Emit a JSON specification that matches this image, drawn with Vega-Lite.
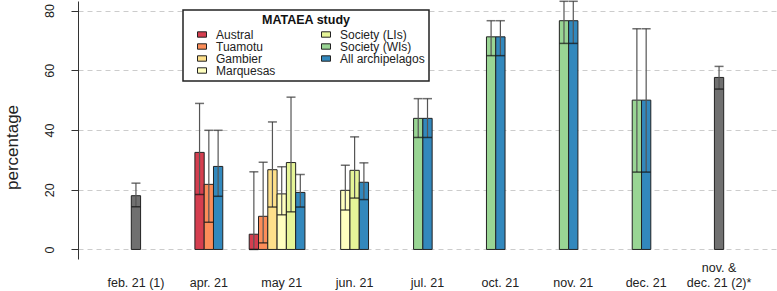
{
  "$schema": "https://vega.github.io/schema/vega-lite/v6.json",
  "autosize": "none",
  "width": 699,
  "height": 258,
  "padding": {"left": 78, "top": 1, "right": 0, "bottom": 32},
  "background": "white",
  "config": {
    "view": {"stroke": null},
    "font": "Liberation Sans"
  },
  "data": {
    "values": [
      {"group": "feb. 21 (1)", "arch": "Other study", "value": 18.0, "lo": 14.3, "hi": 22.2},
      {"group": "apr. 21", "arch": "Austral", "value": 32.5, "lo": 18.4, "hi": 48.9},
      {"group": "apr. 21", "arch": "Tuamotu", "value": 21.8, "lo": 9.1, "hi": 39.9},
      {"group": "apr. 21", "arch": "All archipelagos", "value": 27.8, "lo": 17.8, "hi": 39.9},
      {"group": "may 21", "arch": "Austral", "value": 5.1, "lo": 0.0, "hi": 26.0},
      {"group": "may 21", "arch": "Tuamotu", "value": 11.1, "lo": 2.2, "hi": 29.2},
      {"group": "may 21", "arch": "Gambier", "value": 26.7, "lo": 14.2, "hi": 42.7},
      {"group": "may 21", "arch": "Marquesas", "value": 18.6, "lo": 11.6, "hi": 27.7},
      {"group": "may 21", "arch": "Society (LIs)", "value": 29.1, "lo": 12.6, "hi": 51.0},
      {"group": "may 21", "arch": "All archipelagos", "value": 19.1, "lo": 14.2, "hi": 25.1},
      {"group": "jun. 21", "arch": "Marquesas", "value": 19.8, "lo": 13.2, "hi": 28.2},
      {"group": "jun. 21", "arch": "Society (LIs)", "value": 26.5, "lo": 17.2, "hi": 37.7},
      {"group": "jun. 21", "arch": "All archipelagos", "value": 22.5, "lo": 16.7, "hi": 29.0},
      {"group": "jul. 21", "arch": "Society (WIs)", "value": 43.9, "lo": 37.5, "hi": 50.5},
      {"group": "jul. 21", "arch": "All archipelagos", "value": 43.9, "lo": 37.5, "hi": 50.5},
      {"group": "oct. 21", "arch": "Society (WIs)", "value": 71.2, "lo": 64.9, "hi": 76.6},
      {"group": "oct. 21", "arch": "All archipelagos", "value": 71.2, "lo": 64.9, "hi": 76.6},
      {"group": "nov. 21", "arch": "Society (WIs)", "value": 76.6, "lo": 69.0, "hi": 83.1},
      {"group": "nov. 21", "arch": "All archipelagos", "value": 76.6, "lo": 69.0, "hi": 83.1},
      {"group": "dec. 21", "arch": "Society (WIs)", "value": 50.0, "lo": 25.9, "hi": 73.9},
      {"group": "dec. 21", "arch": "All archipelagos", "value": 50.0, "lo": 25.9, "hi": 73.9},
      {"group": "nov. & dec. 21 (2)*", "arch": "Other study", "value": 57.6, "lo": 53.7, "hi": 61.3}
    ]
  },
  "transform": [
    {"window": [{"op": "row_number", "as": "rn"}, {"op": "count", "as": "n"}], "groupby": ["group"], "frame": [null, null]},
    {"calculate": "datum.rn - 1 - floor(datum.n / 2)", "as": "slot"}
  ],
  "encoding": {
    "x": {
      "field": "group", "type": "nominal",
      "scale": {
        "domain": ["feb. 21 (1)", "apr. 21", "may 21", "jun. 21", "jul. 21", "oct. 21", "nov. 21", "dec. 21", "nov. & dec. 21 (2)*"],
        "paddingInner": 0.108, "paddingOuter": 0.349
      },
      "axis": {
        "title": null, "domain": false, "ticks": false, "grid": false,
        "labelAngle": 0, "labelBaseline": "top", "labelPadding": 2,
        "labelFontSize": 12.5, "labelColor": "#222", "labelLineHeight": 15,
        "labelOverlap": false,
        "labelExpr": "datum.value == 'nov. & dec. 21 (2)*' ? ['nov. &', 'dec. 21 (2)*'] : ['', datum.label]"
      }
    },
    "xOffset": {
      "field": "slot", "type": "ordinal",
      "scale": {"domain": [-3, -2, -1, 0, 1, 2, 3], "paddingInner": 0, "paddingOuter": 0}
    }
  },
  "layer": [
    {
      "mark": {"type": "bar", "stroke": "#222", "strokeWidth": 1, "opacity": 1},
      "encoding": {
        "y": {
          "field": "value", "type": "quantitative",
          "scale": {"domain": [-3.2, 83.2], "nice": false, "zero": false},
          "axis": {
            "title": "percentage", "titleFontSize": 17, "titleFontWeight": "normal", "titleColor": "#222",
            "titleX": -66, "titleY": 146, "titleAlign": "center", "titleBaseline": "middle", "titleAngle": -90,
            "values": [0, 20, 40, 60, 80],
            "labelAngle": -90, "labelAlign": "center", "labelBaseline": "bottom",
            "labelFontSize": 12.5, "labelColor": "#222", "labelPadding": 15,
            "tickSize": 7, "tickColor": "#333", "domainColor": "#333",
            "grid": true, "gridColor": "#cccccc", "gridDash": [5, 4], "gridWidth": 1
          }
        },
        "color": {
          "field": "arch", "type": "nominal",
          "scale": {
            "domain": ["Austral", "Tuamotu", "Gambier", "Marquesas", "Society (LIs)", "Society (WIs)", "All archipelagos", "Other study"],
            "range": ["#D53E4F", "#FC8D59", "#FEE08B", "#FFFFBF", "#E6F598", "#99D594", "#3288BD", "#707070"]
          },
          "legend": {
            "values": ["Austral", "Tuamotu", "Gambier", "Marquesas", "Society (LIs)", "Society (WIs)", "All archipelagos"],
            "columns": 2,
            "orient": "none", "legendX": 105, "legendY": 9,
            "title": "MATAEA study", "titleAnchor": "middle", "titleFontSize": 12.5, "titleFontWeight": "bold", "titleColor": "#111", "titlePadding": 2,
            "labelFontSize": 12, "labelColor": "#222", "labelOffset": 8,
            "symbolType": "M-1,-0.6H1V0.6H-1Z", "symbolSize": 81, "symbolStrokeColor": "#222", "symbolStrokeWidth": 1, "symbolOpacity": 1,
            "symbolOffset": 9, "rowPadding": 0, "columnPadding": 35,
            "padding": 4, "fillColor": "white", "strokeColor": "#222", "cornerRadius": 0,
            "encode": {"legend": {"update": {"strokeWidth": {"value": 1.5}}}}
          }
        }
      }
    },
    {
      "mark": {"type": "rule", "color": "#555", "strokeWidth": 1.2},
      "encoding": {
        "y": {"field": "lo", "type": "quantitative"},
        "y2": {"field": "hi"}
      }
    },
    {
      "mark": {"type": "tick", "color": "#333", "thickness": 1.5, "size": 9},
      "encoding": {
        "y": {"field": "hi", "type": "quantitative"}
      }
    },
    {
      "mark": {"type": "tick", "color": "#111", "thickness": 1.5, "size": 9},
      "encoding": {
        "y": {"field": "lo", "type": "quantitative"}
      }
    }
  ]
}
